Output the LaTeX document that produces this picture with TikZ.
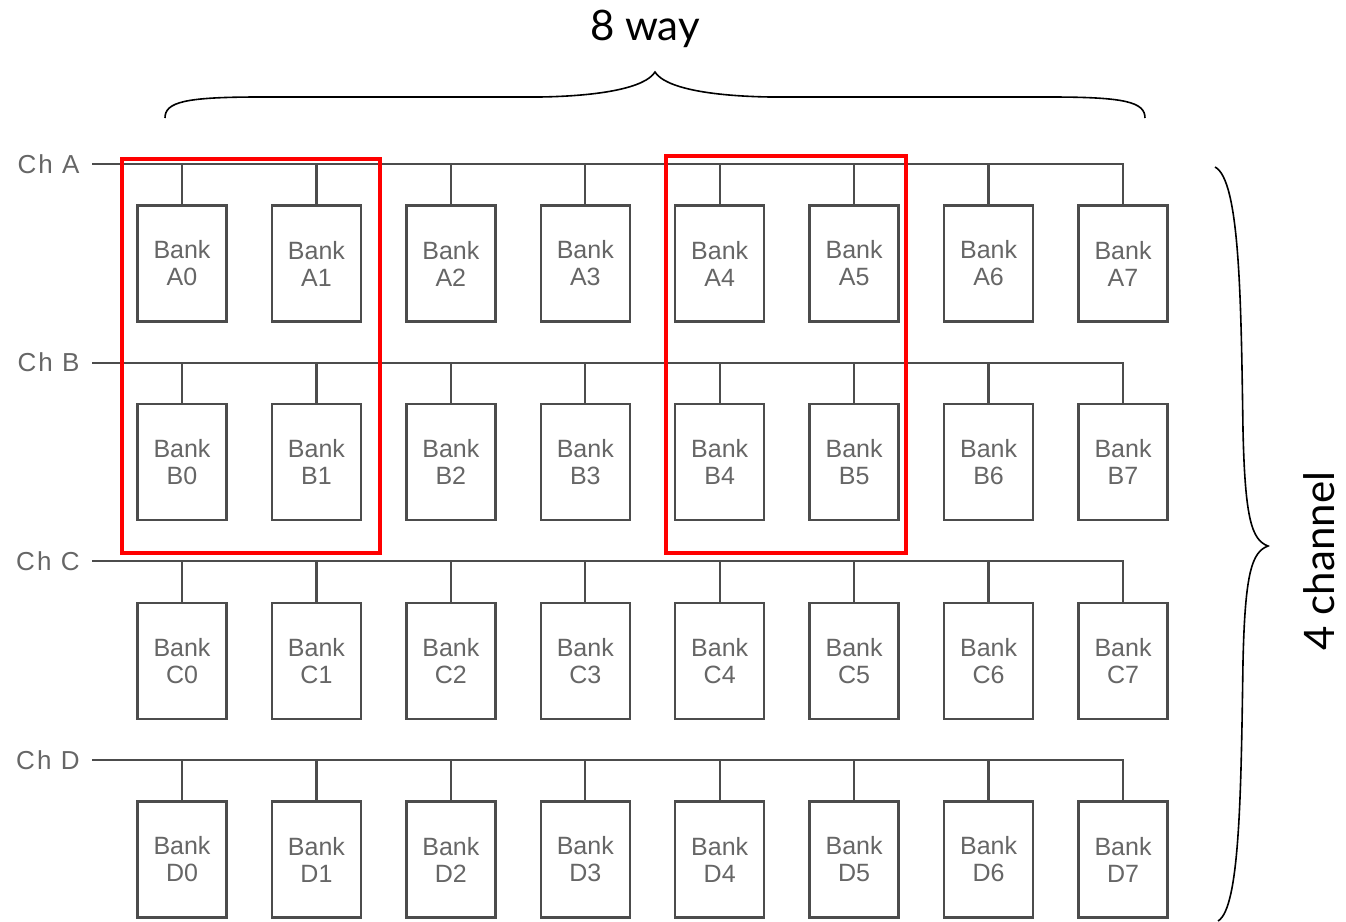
\documentclass[tikz,border=0pt]{standalone}
\usepackage{fontspec}
\setmainfont{Liberation Sans}
\newfontfamily\capfont{Lato}
\newfontfamily\chfont[LetterSpace=8]{Liberation Sans}

\begin{document}
\begin{tikzpicture}[x=0.5pt,y=-0.5pt,
    bank/.style={draw=black!70, line width=1.2pt, fill=white, minimum width=44.5pt, minimum height=58pt, inner sep=0pt, align=center, text=black!60, font=\fontsize{12.5}{13.5}\selectfont},
    chlabel/.style={text=black!60, font=\chfont\fontsize{13}{14}\selectfont, inner sep=0pt, anchor=east},
    bus/.style={draw=black!70, line width=1.1pt},
    group/.style={draw=red, line width=2pt},
    brace/.style={draw=black, line width=0.8pt},
    caption/.style={font=\capfont\fontsize{21}{24}\selectfont, inner sep=0pt}]
    \useasboundingbox (0,0) rectangle (1346,922);

    % channels with their eight banks
    \foreach \chn/\yy in {A/164,B/362.67,C/561.33,D/760}{
        \node[chlabel] (ch\chn) at (80,\yy) {Ch \chn};
        \coordinate (bus\chn) at (92,\yy);
        \foreach \i in {0,...,7}
            \node[bank] (\chn\i) at (182+134.43*\i,\yy+99.5) {Bank\\\chn\i};
        \draw[bus] (bus\chn) -- (\chn7.north |- bus\chn) -- (\chn7.north);
        \foreach \i in {0,...,6}
            \draw[bus] (\chn\i.north |- bus\chn) -- (\chn\i.north);
    }

    % grouped banks
    \draw[group] (122,159) rectangle (380,553);
    \draw[group] (666,156) rectangle (906,553);

    % ways
    \draw[brace] (165,118) .. controls (165,102) and (185,97) .. (260,97) -- (540,97)
        .. controls (600,96) and (645,88) .. (655,72)
        .. controls (665,88) and (710,96) .. (770,97) -- (1050,97)
        .. controls (1125,97) and (1145,102) .. (1145,118);
    \node[caption] (way) at (645,29) {8 way};

    % channels
    \draw[brace] (1215,167) .. controls (1240,180) and (1241,300) .. (1243,430)
        .. controls (1245,520) and (1252,540) .. (1268,546)
        .. controls (1252,552) and (1245,572) .. (1243,662)
        .. controls (1241,792) and (1240,908) .. (1218,921);
    \node[caption, rotate=90] (chan) at (1319,561) {4 channel};
\end{tikzpicture}
\end{document}
